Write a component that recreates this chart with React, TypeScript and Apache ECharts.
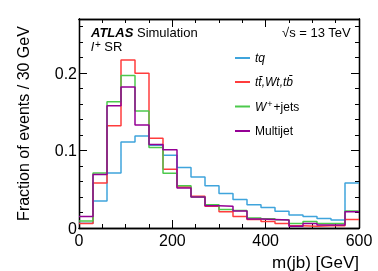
import React, { useEffect, useRef } from 'react';
import * as echarts from 'echarts';

const binLow = [0, 30, 60, 90, 120, 150, 180, 210, 240, 270, 300, 330, 360, 390, 420, 450, 480, 510, 540, 570];
const binWidth = 30;
const tq = [0.006, 0.035, 0.071, 0.111, 0.119, 0.107, 0.094, 0.078, 0.066, 0.0545, 0.0446, 0.0368, 0.030, 0.0265, 0.0217, 0.0169, 0.0148, 0.0122, 0.0104, 0.058];
const ttbar = [0.0057, 0.058, 0.132, 0.217, 0.200, 0.116, 0.076, 0.053, 0.041, 0.028, 0.021, 0.0148, 0.011, 0.0083, 0.0057, 0.003, 0.0022, 0.003, 0.003, 0.011];
const wjets = [0.009, 0.071, 0.163, 0.197, 0.151, 0.104, 0.0706, 0.0545, 0.040, 0.030, 0.024, 0.0226, 0.013, 0.012, 0.0106, 0.0057, 0.0083, 0.0057, 0.0057, 0.022];
const multijet = [0.015, 0.069, 0.158, 0.182, 0.133, 0.108, 0.101, 0.0516, 0.040, 0.0286, 0.028, 0.022, 0.0117, 0.011, 0.0103, 0.0022, 0.0057, 0.004, 0.004, 0.021];

const seriesNames = ['tq', 'ttbar', 'wjets', 'multijet'];
const legendLabels: Record<string, string> = {
  tq: '{i|tq}',
  ttbar: '{i|tt\u0304,Wt,tb\u0304}',
  wjets: '{i|W}{s|+}{n|+jets}',
  multijet: '{n|Multijet}',
};
const colors = ['#3fa4dc', '#ff3c3c', '#4cc94c', '#950095'];

const FONT = '"Liberation Sans", Arial, Helvetica, sans-serif';

function stepData(vals: number[]) {
  const d = binLow.map((x, i) => [x, vals[i]]);
  d.push([binLow[binLow.length - 1] + binWidth, vals[vals.length - 1]]);
  return d;
}

export default function App() {
  const ref = useRef<HTMLDivElement>(null);
  useEffect(() => {
    if (!ref.current) return;
    const chart = echarts.init(ref.current, undefined, { renderer: 'svg' });
    const axisLine = { show: true, onZero: false, lineStyle: { color: '#000', width: 1.3 } };
    const xBase = { type: 'value', min: 0, max: 600, splitLine: { show: false }, axisLine };
    const yBase = { type: 'value', min: 0, max: 0.27, splitLine: { show: false }, axisLine };
    const major = { show: true, inside: true, length: 8, lineStyle: { color: '#000', width: 1 } };
    const minor = { show: true, inside: true, length: 4, lineStyle: { color: '#000', width: 1 } };
    const series = [tq, ttbar, wjets, multijet].map((vals, i) => ({
      name: seriesNames[i],
      type: 'line',
      step: 'end',
      symbol: 'none',
      data: stepData(vals),
      xAxisIndex: 0,
      yAxisIndex: 0,
      lineStyle: { color: colors[i], width: 1.5 },
      itemStyle: { color: colors[i] },
    }));
    chart.setOption({
      animation: false,
      grid: { left: 79, right: 19, top: 19, bottom: 43 },
      xAxis: [
        {
          ...xBase, position: 'bottom', interval: 200,
          axisTick: major,
          axisLabel: { show: true, margin: 4, fontSize: 16, color: '#000', fontFamily: FONT },
          name: 'm(jb) [GeV]', nameLocation: 'end', nameGap: 0,
          nameTextStyle: { align: 'right', verticalAlign: 'top', padding: [26, 0, 0, 0], fontSize: 17, color: '#000', fontFamily: FONT },
        },
        { ...xBase, position: 'bottom', interval: 50, axisTick: minor, axisLabel: { show: false } },
        { ...xBase, position: 'top', interval: 200, axisTick: major, axisLabel: { show: false } },
        { ...xBase, position: 'top', interval: 50, axisTick: minor, axisLabel: { show: false } },
      ],
      yAxis: [
        {
          ...yBase, position: 'left', interval: 0.1,
          axisTick: major,
          axisLabel: { show: true, margin: 2, fontSize: 16, color: '#000', fontFamily: FONT, showMaxLabel: false,
            formatter: (v: number) => String(Math.round(v * 10) / 10) },
          name: 'Fraction of events / 30 GeV', nameLocation: 'middle', nameGap: 48,
          nameTextStyle: { fontSize: 16, color: '#000', fontFamily: FONT },
        },
        { ...yBase, position: 'left', interval: 0.02, axisTick: minor, axisLabel: { show: false } },
        { ...yBase, position: 'right', interval: 0.1, axisTick: major, axisLabel: { show: false } },
        { ...yBase, position: 'right', interval: 0.02, axisTick: minor, axisLabel: { show: false } },
      ],
      legend: {
        show: true,
        orient: 'vertical',
        left: 230,
        top: 46,
        itemWidth: 15,
        itemHeight: 2,
        itemGap: 10,
        icon: 'rect',
        data: seriesNames,
        formatter: (name: string) => legendLabels[name],
        textStyle: {
          fontFamily: FONT,
          fontSize: 12,
          color: '#000',
          lineHeight: 14,
          rich: {
            i: { fontStyle: 'italic', fontSize: 12, fontFamily: FONT, color: '#000', lineHeight: 14 },
            n: { fontSize: 12, fontFamily: FONT, color: '#000', lineHeight: 14 },
            s: { fontSize: 9, fontFamily: FONT, color: '#000', lineHeight: 14, padding: [0, 1, 6, 1] },
          },
        },
      },
      graphic: [
        {
          type: 'text', left: 91, top: 26,
          style: {
            text: '{b|ATLAS} Simulation',
            fontSize: 13, fontFamily: FONT, fill: '#000',
            rich: { b: { fontWeight: 'bold', fontStyle: 'italic', fontSize: 13, fontFamily: FONT } },
          },
        },
        {
          type: 'text', left: 91, top: 39,
          style: {
            text: '{i|l}{s|+}{n| SR}',
            fontSize: 13, fontFamily: FONT, fill: '#000',
            rich: {
              i: { fontStyle: 'italic', fontSize: 13, fontFamily: FONT, lineHeight: 15 },
              s: { fontSize: 10, fontFamily: FONT, lineHeight: 15, padding: [0, 0, 5, 1] },
              n: { fontSize: 13, fontFamily: FONT, lineHeight: 15 },
            },
          },
        },
        {
          type: 'text', right: 27, top: 26,
          style: { text: '\u221As = 13 TeV', fontSize: 13, fontFamily: FONT, fill: '#000' },
        },
      ],
      series,
    });
    return () => chart.dispose();
  }, []);
  return <div ref={ref} style={{ position: 'fixed', left: 0, top: 0, width: 378, height: 271 }} />;
}
